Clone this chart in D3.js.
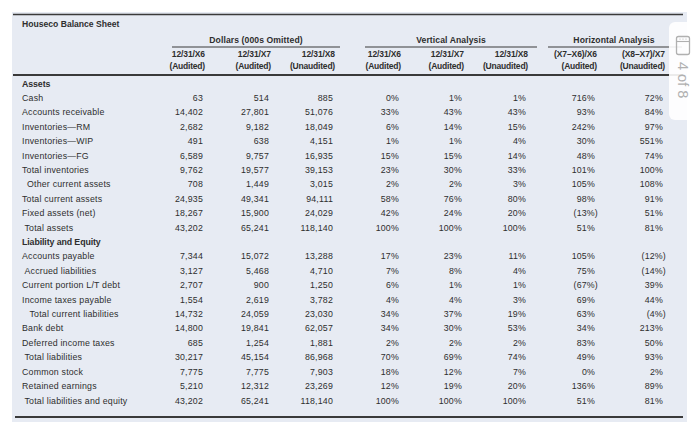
<!DOCTYPE html>
<html><head><meta charset="utf-8">
<script src="https://cdn.jsdelivr.net/npm/d3@7"></script>
<style>body{margin:0;background:#fff}svg{display:block}</style>
</head><body>
<svg id="c" width="700" height="437"></svg>
<script>
const title = "Houseco Balance Sheet";
const groupHeaders = ["Dollars (000s Omitted)", "Vertical Analysis", "Horizontal Analysis"];
const colHeaders1 = ["12/31/X6","12/31/X7","12/31/X8","12/31/X6","12/31/X7","12/31/X8","(X7–X6)/X6","(X8–X7)/X7"];
const colHeaders2 = ["(Audited)","(Audited)","(Unaudited)","(Audited)","(Audited)","(Unaudited)","(Audited)","(Unaudited)"];
const rowLabels = ["Assets","Cash","Accounts receivable","Inventories—RM","Inventories—WIP","Inventories—FG","Total inventories","Other current assets","Total current assets","Fixed assets (net)","Total assets","Liability and Equity","Accounts payable","Accrued liabilities","Current portion L/T debt","Income taxes payable","Total current liabilities","Bank debt","Deferred income taxes","Total liabilities","Common stock","Retained earnings","Total liabilities and equity"];
const rowIndent = [0,0,0,0,0,0,0,2,0,0,1,0,0,1,0,0,3,0,0,1,0,0,1];
const rowBold = [1,0,0,0,0,0,0,0,0,0,0,1,0,0,0,0,0,0,0,0,0,0,0];
const dollarsX6 = [null,63,14402,2682,491,6589,9762,708,24935,18267,43202,null,7344,3127,2707,1554,14732,14800,685,30217,7775,5210,43202];
const dollarsX7 = [null,514,27801,9182,638,9757,19577,1449,49341,15900,65241,null,15072,5468,900,2619,24059,19841,1254,45154,7775,12312,65241];
const dollarsX8 = [null,885,51076,18049,4151,16935,39153,3015,94111,24029,118140,null,13288,4710,1250,3782,23030,62057,1881,86968,7903,23269,118140];
const vertX6 = [null,0,33,6,1,15,23,2,58,42,100,null,17,7,6,4,34,34,2,70,18,12,100];
const vertX7 = [null,1,43,14,1,15,30,2,76,24,100,null,23,8,1,4,37,30,2,69,12,19,100];
const vertX8 = [null,1,43,15,4,14,33,3,80,20,100,null,11,4,1,3,19,53,2,74,7,20,100];
const horizX7X6 = [null,716,93,242,30,48,101,105,98,-13,51,null,105,75,-67,69,63,34,83,49,0,136,51];
const horizX8X7 = [null,72,84,97,551,74,100,108,91,51,81,null,-12,-14,39,44,-4,213,50,93,2,89,81];

const svg = d3.select("#c");
const ink = "#2e2e2e";
const font = "'Liberation Sans', Arial, sans-serif";

const colRight = d3.scaleOrdinal().domain(d3.range(8)).range([203,269,333,399,462,526,595,663]);
const yRow = d3.scaleLinear().domain([0, rowLabels.length-1]).range([83.5, 400.5]);

svg.append("rect").attr("x",12).attr("y",12).attr("width",675).attr("height",410).attr("fill","#e7ebf3");

const rule = (x1,x2,y,w)=>svg.append("line").attr("x1",x1).attr("x2",x2).attr("y1",y).attr("y2",y).attr("stroke","#3a3a3a").attr("stroke-width",w);
rule(13,683,14.5,1.5);
rule(13,683,75,2);
rule(15,683,417,2);

svg.append("text").attr("x",22).attr("y",26.5).attr("font-family",font).attr("font-size",8.6).attr("font-weight","bold").attr("letter-spacing",0).attr("fill",ink).text(title);

const groups = [{x1:172,x2:340},{x1:365,x2:537},{x1:548,x2:682}];
groups.forEach((g,i)=>{
  rule(g.x1,g.x2,47,1.2);
  const cx = i===2 ? 614 : (g.x1+g.x2)/2;
  svg.append("text").attr("x",cx).attr("y",43).attr("text-anchor","middle").attr("font-family",font).attr("font-size",8.6).attr("font-weight","bold").attr("letter-spacing",0.1).attr("fill",ink).text(groupHeaders[i]);
});

colHeaders1.forEach((t,i)=>{
  svg.append("text").attr("x",colRight(i)+2).attr("y",57).attr("text-anchor","end").attr("font-family",font).attr("font-size",8.5).attr("font-weight","bold").attr("letter-spacing",-0.1).attr("fill",ink).text(t);
  svg.append("text").attr("x",colRight(i)+2).attr("y",69).attr("text-anchor","end").attr("font-family",font).attr("font-size",8.5).attr("font-weight","bold").attr("letter-spacing",-0.2).attr("fill",ink).text(colHeaders2[i]);
});

const fmtD = d3.format(",");
const fmtP = v => v==null ? "" : (v<0 ? "("+Math.abs(v)+"%)" : v+"%");
const cols = [dollarsX6,dollarsX7,dollarsX8,vertX6,vertX7,vertX8,horizX7X6,horizX8X7];

rowLabels.forEach((lab,r)=>{
  const y = yRow(r)+3;
  svg.append("text").attr("x",22+rowIndent[r]*2.5).attr("y",y).attr("font-family",font).attr("font-size",8.8).attr("font-weight",rowBold[r]?"bold":"normal").attr("letter-spacing",rowBold[r]?-0.1:0.2).attr("fill",ink).text(lab);
  cols.forEach((arr,c)=>{
    const v = arr[r];
    if (v==null) return;
    const txt = c<3 ? fmtD(v) : fmtP(v);
    svg.append("text").attr("x",colRight(c)+(v<0?3:0)).attr("y",y).attr("text-anchor","end").attr("font-family",font).attr("font-size",8.8).attr("letter-spacing",0.2).attr("fill",ink).text(txt);
  });
});

// page indicator overlay
const ov = svg.append("g");
ov.append("rect").attr("x",669).attr("y",22).attr("width",40).attr("height",98).attr("rx",6).attr("fill","#fff").attr("opacity",0.9);
ov.append("rect").attr("x",676.5).attr("y",36.5).attr("width",13).attr("height",18).attr("rx",2).attr("fill","none").attr("stroke","#b0b0b0").attr("stroke-width",1.3);
ov.append("line").attr("x1",676.5).attr("x2",689.5).attr("y1",41.5).attr("y2",41.5).attr("stroke","#b0b0b0").attr("stroke-width",1.1);
[680,683,686].forEach(x=>ov.append("circle").attr("cx",x).attr("cy",39).attr("r",0.6).attr("fill","#b0b0b0"));
ov.append("text").attr("transform","translate(678,62) rotate(90)").attr("font-family",font).attr("font-size",14.5).attr("fill","#b0b0b0").text("4 of 8");
</script>
</body></html>
